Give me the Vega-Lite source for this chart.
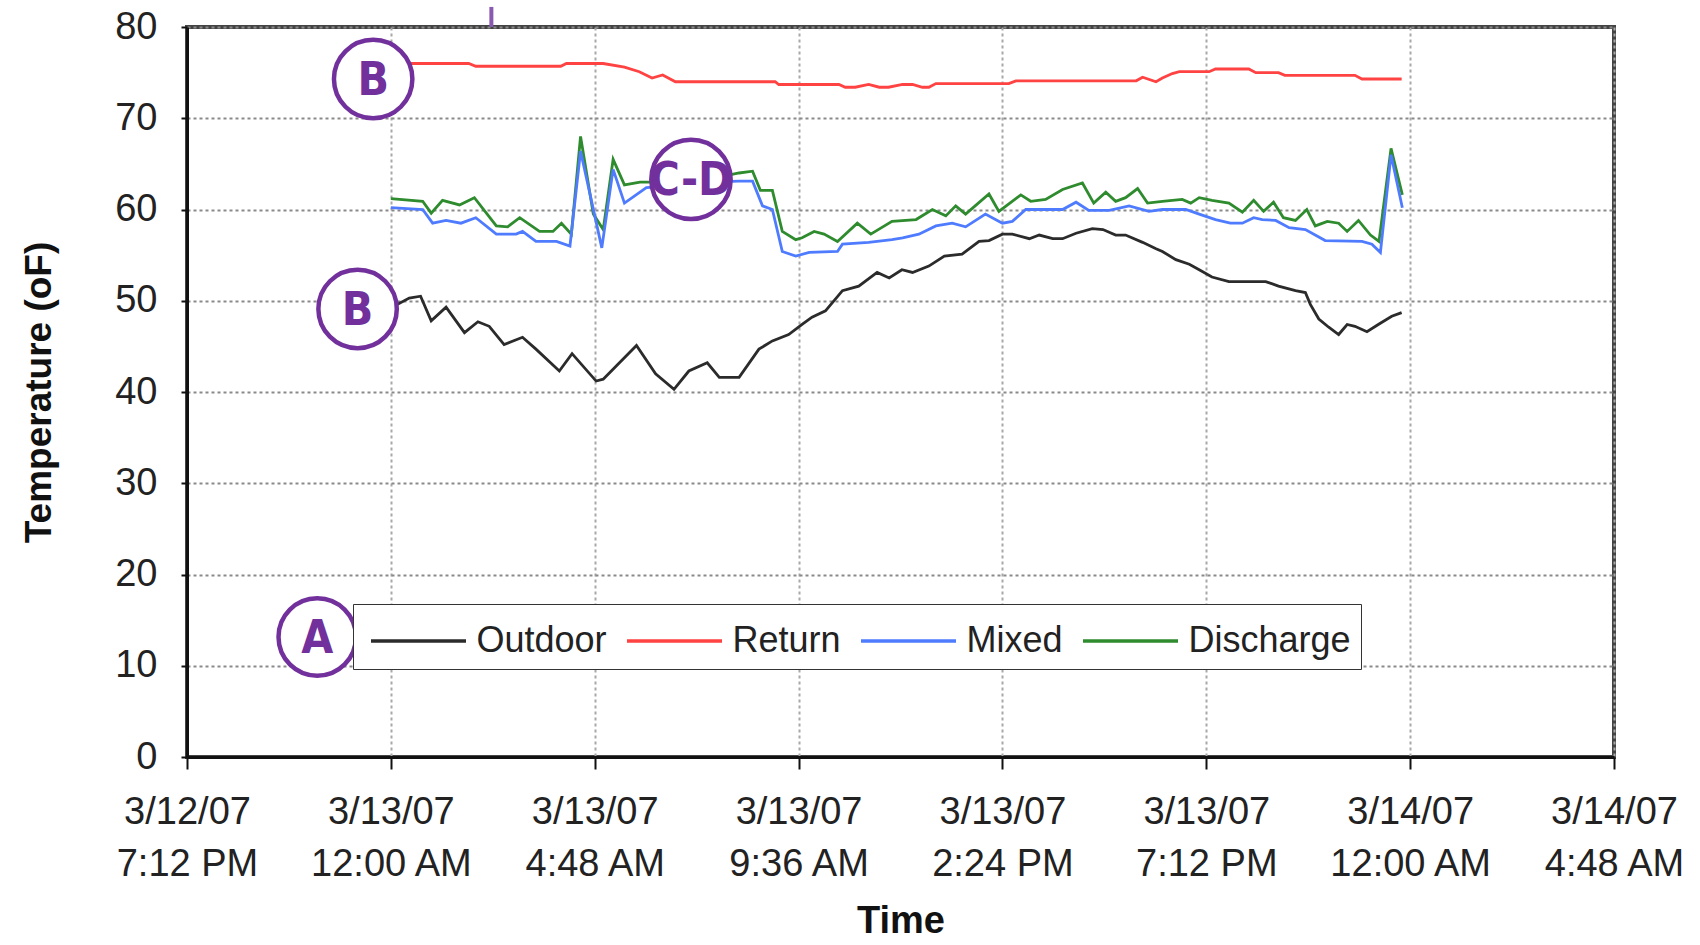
{
  "$schema": "https://vega.github.io/schema/vega-lite/v6.json",
  "width": 1427,
  "height": 730,
  "autosize": {"type": "none"},
  "padding": {"left": 187, "top": 27, "right": 86, "bottom": 188},
  "background": "white",
  "config": {
    "font": "Liberation Sans",
    "view": {"stroke": "#444", "strokeWidth": 4},
    "axis": {
      "labelColor": "#222",
      "titleColor": "#111",
      "domainColor": "#111",
      "domainWidth": 3,
      "tickColor": "#111",
      "tickWidth": 2,
      "gridDash": [3, 3],
      "gridWidth": 2
    }
  },
  "resolve": {"scale": {"size": "independent"}},
  "datasets": {
    "temps": [
      {"series":"Return","time":"2007-03-13T00:00","temp":76.0},
      {"series":"Return","time":"2007-03-13T01:50","temp":76.0},
      {"series":"Return","time":"2007-03-13T02:00","temp":75.7},
      {"series":"Return","time":"2007-03-13T04:00","temp":75.7},
      {"series":"Return","time":"2007-03-13T04:08","temp":76.0},
      {"series":"Return","time":"2007-03-13T05:00","temp":76.0},
      {"series":"Return","time":"2007-03-13T05:30","temp":75.6},
      {"series":"Return","time":"2007-03-13T05:51","temp":75.1},
      {"series":"Return","time":"2007-03-13T06:09","temp":74.4},
      {"series":"Return","time":"2007-03-13T06:24","temp":74.75},
      {"series":"Return","time":"2007-03-13T06:42","temp":74.0},
      {"series":"Return","time":"2007-03-13T09:03","temp":74.0},
      {"series":"Return","time":"2007-03-13T09:08","temp":73.7},
      {"series":"Return","time":"2007-03-13T10:33","temp":73.7},
      {"series":"Return","time":"2007-03-13T10:42","temp":73.4},
      {"series":"Return","time":"2007-03-13T10:56","temp":73.4},
      {"series":"Return","time":"2007-03-13T11:15","temp":73.7},
      {"series":"Return","time":"2007-03-13T11:30","temp":73.4},
      {"series":"Return","time":"2007-03-13T11:43","temp":73.4},
      {"series":"Return","time":"2007-03-13T12:03","temp":73.7},
      {"series":"Return","time":"2007-03-13T12:17","temp":73.7},
      {"series":"Return","time":"2007-03-13T12:31","temp":73.4},
      {"series":"Return","time":"2007-03-13T12:40","temp":73.4},
      {"series":"Return","time":"2007-03-13T12:50","temp":73.8},
      {"series":"Return","time":"2007-03-13T14:33","temp":73.8},
      {"series":"Return","time":"2007-03-13T14:43","temp":74.1},
      {"series":"Return","time":"2007-03-13T17:33","temp":74.1},
      {"series":"Return","time":"2007-03-13T17:42","temp":74.5},
      {"series":"Return","time":"2007-03-13T18:01","temp":74.0},
      {"series":"Return","time":"2007-03-13T18:10","temp":74.4},
      {"series":"Return","time":"2007-03-13T18:24","temp":74.9},
      {"series":"Return","time":"2007-03-13T18:34","temp":75.1},
      {"series":"Return","time":"2007-03-13T19:16","temp":75.1},
      {"series":"Return","time":"2007-03-13T19:25","temp":75.4},
      {"series":"Return","time":"2007-03-13T20:12","temp":75.4},
      {"series":"Return","time":"2007-03-13T20:22","temp":75.0},
      {"series":"Return","time":"2007-03-13T20:54","temp":75.0},
      {"series":"Return","time":"2007-03-13T21:03","temp":74.7},
      {"series":"Return","time":"2007-03-13T22:42","temp":74.7},
      {"series":"Return","time":"2007-03-13T22:52","temp":74.3},
      {"series":"Return","time":"2007-03-13T23:48","temp":74.3},

      {"series":"Discharge","time":"2007-03-13T00:00","temp":61.2},
      {"series":"Discharge","time":"2007-03-13T00:45","temp":60.9},
      {"series":"Discharge","time":"2007-03-13T00:57","temp":59.6},
      {"series":"Discharge","time":"2007-03-13T01:13","temp":61.0},
      {"series":"Discharge","time":"2007-03-13T01:37","temp":60.5},
      {"series":"Discharge","time":"2007-03-13T01:58","temp":61.3},
      {"series":"Discharge","time":"2007-03-13T02:29","temp":58.2},
      {"series":"Discharge","time":"2007-03-13T02:45","temp":58.1},
      {"series":"Discharge","time":"2007-03-13T03:02","temp":59.1},
      {"series":"Discharge","time":"2007-03-13T03:30","temp":57.6},
      {"series":"Discharge","time":"2007-03-13T03:49","temp":57.6},
      {"series":"Discharge","time":"2007-03-13T04:01","temp":58.5},
      {"series":"Discharge","time":"2007-03-13T04:15","temp":57.3},
      {"series":"Discharge","time":"2007-03-13T04:28","temp":68.0},
      {"series":"Discharge","time":"2007-03-13T04:46","temp":59.5},
      {"series":"Discharge","time":"2007-03-13T05:00","temp":57.8},
      {"series":"Discharge","time":"2007-03-13T05:14","temp":65.5},
      {"series":"Discharge","time":"2007-03-13T05:30","temp":62.7},
      {"series":"Discharge","time":"2007-03-13T05:52","temp":63.0},
      {"series":"Discharge","time":"2007-03-13T06:20","temp":63.0},
      {"series":"Discharge","time":"2007-03-13T07:00","temp":63.2},
      {"series":"Discharge","time":"2007-03-13T07:40","temp":63.5},
      {"series":"Discharge","time":"2007-03-13T08:12","temp":64.0},
      {"series":"Discharge","time":"2007-03-13T08:31","temp":64.2},
      {"series":"Discharge","time":"2007-03-13T08:42","temp":62.1},
      {"series":"Discharge","time":"2007-03-13T08:59","temp":62.1},
      {"series":"Discharge","time":"2007-03-13T09:13","temp":57.6},
      {"series":"Discharge","time":"2007-03-13T09:32","temp":56.7},
      {"series":"Discharge","time":"2007-03-13T09:41","temp":56.9},
      {"series":"Discharge","time":"2007-03-13T09:58","temp":57.6},
      {"series":"Discharge","time":"2007-03-13T10:12","temp":57.3},
      {"series":"Discharge","time":"2007-03-13T10:31","temp":56.5},
      {"series":"Discharge","time":"2007-03-13T10:59","temp":58.5},
      {"series":"Discharge","time":"2007-03-13T11:18","temp":57.3},
      {"series":"Discharge","time":"2007-03-13T11:48","temp":58.7},
      {"series":"Discharge","time":"2007-03-13T12:22","temp":58.9},
      {"series":"Discharge","time":"2007-03-13T12:45","temp":60.0},
      {"series":"Discharge","time":"2007-03-13T13:04","temp":59.3},
      {"series":"Discharge","time":"2007-03-13T13:18","temp":60.4},
      {"series":"Discharge","time":"2007-03-13T13:32","temp":59.5},
      {"series":"Discharge","time":"2007-03-13T14:05","temp":61.7},
      {"series":"Discharge","time":"2007-03-13T14:19","temp":59.8},
      {"series":"Discharge","time":"2007-03-13T14:50","temp":61.6},
      {"series":"Discharge","time":"2007-03-13T15:04","temp":60.9},
      {"series":"Discharge","time":"2007-03-13T15:25","temp":61.1},
      {"series":"Discharge","time":"2007-03-13T15:49","temp":62.2},
      {"series":"Discharge","time":"2007-03-13T16:17","temp":62.9},
      {"series":"Discharge","time":"2007-03-13T16:33","temp":60.7},
      {"series":"Discharge","time":"2007-03-13T16:50","temp":61.9},
      {"series":"Discharge","time":"2007-03-13T17:04","temp":60.9},
      {"series":"Discharge","time":"2007-03-13T17:18","temp":61.3},
      {"series":"Discharge","time":"2007-03-13T17:35","temp":62.3},
      {"series":"Discharge","time":"2007-03-13T17:49","temp":60.7},
      {"series":"Discharge","time":"2007-03-13T18:10","temp":60.9},
      {"series":"Discharge","time":"2007-03-13T18:38","temp":61.1},
      {"series":"Discharge","time":"2007-03-13T18:50","temp":60.7},
      {"series":"Discharge","time":"2007-03-13T19:02","temp":61.3},
      {"series":"Discharge","time":"2007-03-13T19:20","temp":61.0},
      {"series":"Discharge","time":"2007-03-13T19:44","temp":60.7},
      {"series":"Discharge","time":"2007-03-13T20:03","temp":59.7},
      {"series":"Discharge","time":"2007-03-13T20:19","temp":61.0},
      {"series":"Discharge","time":"2007-03-13T20:33","temp":59.8},
      {"series":"Discharge","time":"2007-03-13T20:47","temp":60.8},
      {"series":"Discharge","time":"2007-03-13T21:01","temp":59.1},
      {"series":"Discharge","time":"2007-03-13T21:18","temp":58.8},
      {"series":"Discharge","time":"2007-03-13T21:34","temp":60.0},
      {"series":"Discharge","time":"2007-03-13T21:46","temp":58.2},
      {"series":"Discharge","time":"2007-03-13T22:03","temp":58.7},
      {"series":"Discharge","time":"2007-03-13T22:19","temp":58.5},
      {"series":"Discharge","time":"2007-03-13T22:31","temp":57.6},
      {"series":"Discharge","time":"2007-03-13T22:47","temp":58.8},
      {"series":"Discharge","time":"2007-03-13T23:04","temp":57.2},
      {"series":"Discharge","time":"2007-03-13T23:16","temp":56.5},
      {"series":"Discharge","time":"2007-03-13T23:33","temp":66.7},
      {"series":"Discharge","time":"2007-03-13T23:49","temp":61.6},

      {"series":"Mixed","time":"2007-03-13T00:00","temp":60.2},
      {"series":"Mixed","time":"2007-03-13T00:45","temp":60.0},
      {"series":"Mixed","time":"2007-03-13T00:59","temp":58.5},
      {"series":"Mixed","time":"2007-03-13T01:18","temp":58.8},
      {"series":"Mixed","time":"2007-03-13T01:39","temp":58.5},
      {"series":"Mixed","time":"2007-03-13T02:00","temp":59.1},
      {"series":"Mixed","time":"2007-03-13T02:29","temp":57.3},
      {"series":"Mixed","time":"2007-03-13T02:57","temp":57.3},
      {"series":"Mixed","time":"2007-03-13T03:06","temp":57.6},
      {"series":"Mixed","time":"2007-03-13T03:25","temp":56.5},
      {"series":"Mixed","time":"2007-03-13T03:54","temp":56.5},
      {"series":"Mixed","time":"2007-03-13T04:13","temp":56.0},
      {"series":"Mixed","time":"2007-03-13T04:28","temp":66.4},
      {"series":"Mixed","time":"2007-03-13T04:58","temp":55.8},
      {"series":"Mixed","time":"2007-03-13T05:14","temp":64.4},
      {"series":"Mixed","time":"2007-03-13T05:30","temp":60.7},
      {"series":"Mixed","time":"2007-03-13T06:01","temp":62.4},
      {"series":"Mixed","time":"2007-03-13T06:40","temp":62.6},
      {"series":"Mixed","time":"2007-03-13T07:30","temp":63.0},
      {"series":"Mixed","time":"2007-03-13T08:12","temp":63.1},
      {"series":"Mixed","time":"2007-03-13T08:31","temp":63.1},
      {"series":"Mixed","time":"2007-03-13T08:45","temp":60.4},
      {"series":"Mixed","time":"2007-03-13T08:59","temp":60.0},
      {"series":"Mixed","time":"2007-03-13T09:13","temp":55.4},
      {"series":"Mixed","time":"2007-03-13T09:32","temp":54.9},
      {"series":"Mixed","time":"2007-03-13T09:51","temp":55.3},
      {"series":"Mixed","time":"2007-03-13T10:31","temp":55.4},
      {"series":"Mixed","time":"2007-03-13T10:38","temp":56.2},
      {"series":"Mixed","time":"2007-03-13T11:15","temp":56.4},
      {"series":"Mixed","time":"2007-03-13T11:48","temp":56.7},
      {"series":"Mixed","time":"2007-03-13T12:03","temp":56.9},
      {"series":"Mixed","time":"2007-03-13T12:26","temp":57.3},
      {"series":"Mixed","time":"2007-03-13T12:50","temp":58.2},
      {"series":"Mixed","time":"2007-03-13T13:13","temp":58.5},
      {"series":"Mixed","time":"2007-03-13T13:32","temp":58.1},
      {"series":"Mixed","time":"2007-03-13T14:00","temp":59.5},
      {"series":"Mixed","time":"2007-03-13T14:24","temp":58.5},
      {"series":"Mixed","time":"2007-03-13T14:38","temp":58.7},
      {"series":"Mixed","time":"2007-03-13T14:57","temp":60.0},
      {"series":"Mixed","time":"2007-03-13T15:49","temp":60.0},
      {"series":"Mixed","time":"2007-03-13T16:08","temp":60.8},
      {"series":"Mixed","time":"2007-03-13T16:26","temp":59.9},
      {"series":"Mixed","time":"2007-03-13T16:55","temp":59.9},
      {"series":"Mixed","time":"2007-03-13T17:23","temp":60.4},
      {"series":"Mixed","time":"2007-03-13T17:51","temp":59.8},
      {"series":"Mixed","time":"2007-03-13T18:10","temp":60.0},
      {"series":"Mixed","time":"2007-03-13T18:43","temp":60.0},
      {"series":"Mixed","time":"2007-03-13T19:02","temp":59.5},
      {"series":"Mixed","time":"2007-03-13T19:25","temp":58.9},
      {"series":"Mixed","time":"2007-03-13T19:46","temp":58.5},
      {"series":"Mixed","time":"2007-03-13T20:03","temp":58.5},
      {"series":"Mixed","time":"2007-03-13T20:19","temp":59.1},
      {"series":"Mixed","time":"2007-03-13T20:31","temp":58.9},
      {"series":"Mixed","time":"2007-03-13T20:50","temp":58.8},
      {"series":"Mixed","time":"2007-03-13T21:09","temp":58.0},
      {"series":"Mixed","time":"2007-03-13T21:32","temp":57.8},
      {"series":"Mixed","time":"2007-03-13T22:00","temp":56.6},
      {"series":"Mixed","time":"2007-03-13T22:52","temp":56.5},
      {"series":"Mixed","time":"2007-03-13T23:06","temp":56.2},
      {"series":"Mixed","time":"2007-03-13T23:18","temp":55.3},
      {"series":"Mixed","time":"2007-03-13T23:33","temp":66.0},
      {"series":"Mixed","time":"2007-03-13T23:49","temp":60.2},

      {"series":"Outdoor","time":"2007-03-13T00:00","temp":49.4},
      {"series":"Outdoor","time":"2007-03-13T00:09","temp":49.6},
      {"series":"Outdoor","time":"2007-03-13T00:26","temp":50.3},
      {"series":"Outdoor","time":"2007-03-13T00:42","temp":50.5},
      {"series":"Outdoor","time":"2007-03-13T00:57","temp":47.8},
      {"series":"Outdoor","time":"2007-03-13T01:18","temp":49.3},
      {"series":"Outdoor","time":"2007-03-13T01:44","temp":46.5},
      {"series":"Outdoor","time":"2007-03-13T02:03","temp":47.7},
      {"series":"Outdoor","time":"2007-03-13T02:19","temp":47.2},
      {"series":"Outdoor","time":"2007-03-13T02:40","temp":45.2},
      {"series":"Outdoor","time":"2007-03-13T03:06","temp":46.0},
      {"series":"Outdoor","time":"2007-03-13T03:25","temp":44.7},
      {"series":"Outdoor","time":"2007-03-13T03:58","temp":42.3},
      {"series":"Outdoor","time":"2007-03-13T04:16","temp":44.2},
      {"series":"Outdoor","time":"2007-03-13T04:50","temp":41.2},
      {"series":"Outdoor","time":"2007-03-13T05:00","temp":41.4},
      {"series":"Outdoor","time":"2007-03-13T05:47","temp":45.1},
      {"series":"Outdoor","time":"2007-03-13T06:14","temp":42.0},
      {"series":"Outdoor","time":"2007-03-13T06:40","temp":40.3},
      {"series":"Outdoor","time":"2007-03-13T07:01","temp":42.3},
      {"series":"Outdoor","time":"2007-03-13T07:27","temp":43.2},
      {"series":"Outdoor","time":"2007-03-13T07:44","temp":41.6},
      {"series":"Outdoor","time":"2007-03-13T08:12","temp":41.6},
      {"series":"Outdoor","time":"2007-03-13T08:40","temp":44.7},
      {"series":"Outdoor","time":"2007-03-13T08:59","temp":45.6},
      {"series":"Outdoor","time":"2007-03-13T09:22","temp":46.3},
      {"series":"Outdoor","time":"2007-03-13T09:41","temp":47.4},
      {"series":"Outdoor","time":"2007-03-13T09:55","temp":48.2},
      {"series":"Outdoor","time":"2007-03-13T10:14","temp":48.9},
      {"series":"Outdoor","time":"2007-03-13T10:38","temp":51.1},
      {"series":"Outdoor","time":"2007-03-13T11:01","temp":51.6},
      {"series":"Outdoor","time":"2007-03-13T11:27","temp":53.1},
      {"series":"Outdoor","time":"2007-03-13T11:44","temp":52.5},
      {"series":"Outdoor","time":"2007-03-13T12:02","temp":53.4},
      {"series":"Outdoor","time":"2007-03-13T12:17","temp":53.1},
      {"series":"Outdoor","time":"2007-03-13T12:40","temp":53.8},
      {"series":"Outdoor","time":"2007-03-13T13:02","temp":54.9},
      {"series":"Outdoor","time":"2007-03-13T13:27","temp":55.1},
      {"series":"Outdoor","time":"2007-03-13T13:51","temp":56.5},
      {"series":"Outdoor","time":"2007-03-13T14:05","temp":56.6},
      {"series":"Outdoor","time":"2007-03-13T14:24","temp":57.3},
      {"series":"Outdoor","time":"2007-03-13T14:38","temp":57.3},
      {"series":"Outdoor","time":"2007-03-13T15:02","temp":56.8},
      {"series":"Outdoor","time":"2007-03-13T15:16","temp":57.2},
      {"series":"Outdoor","time":"2007-03-13T15:35","temp":56.8},
      {"series":"Outdoor","time":"2007-03-13T15:49","temp":56.8},
      {"series":"Outdoor","time":"2007-03-13T16:08","temp":57.4},
      {"series":"Outdoor","time":"2007-03-13T16:31","temp":57.9},
      {"series":"Outdoor","time":"2007-03-13T16:46","temp":57.8},
      {"series":"Outdoor","time":"2007-03-13T17:04","temp":57.2},
      {"series":"Outdoor","time":"2007-03-13T17:18","temp":57.2},
      {"series":"Outdoor","time":"2007-03-13T17:42","temp":56.4},
      {"series":"Outdoor","time":"2007-03-13T18:01","temp":55.7},
      {"series":"Outdoor","time":"2007-03-13T18:10","temp":55.4},
      {"series":"Outdoor","time":"2007-03-13T18:29","temp":54.5},
      {"series":"Outdoor","time":"2007-03-13T18:48","temp":54.0},
      {"series":"Outdoor","time":"2007-03-13T19:02","temp":53.4},
      {"series":"Outdoor","time":"2007-03-13T19:20","temp":52.6},
      {"series":"Outdoor","time":"2007-03-13T19:44","temp":52.1},
      {"series":"Outdoor","time":"2007-03-13T20:36","temp":52.1},
      {"series":"Outdoor","time":"2007-03-13T20:54","temp":51.6},
      {"series":"Outdoor","time":"2007-03-13T21:18","temp":51.1},
      {"series":"Outdoor","time":"2007-03-13T21:32","temp":50.9},
      {"series":"Outdoor","time":"2007-03-13T21:39","temp":49.6},
      {"series":"Outdoor","time":"2007-03-13T21:51","temp":48.0},
      {"series":"Outdoor","time":"2007-03-13T22:05","temp":47.1},
      {"series":"Outdoor","time":"2007-03-13T22:19","temp":46.3},
      {"series":"Outdoor","time":"2007-03-13T22:31","temp":47.4},
      {"series":"Outdoor","time":"2007-03-13T22:42","temp":47.2},
      {"series":"Outdoor","time":"2007-03-13T22:59","temp":46.6},
      {"series":"Outdoor","time":"2007-03-13T23:15","temp":47.4},
      {"series":"Outdoor","time":"2007-03-13T23:34","temp":48.3},
      {"series":"Outdoor","time":"2007-03-13T23:48","temp":48.7}
    ],
    "notes": [
      {"label":"B","time":"2007-03-12T23:35","temp":74.3},
      {"label":"C-D","time":"2007-03-13T07:04","temp":63.3},
      {"label":"B","time":"2007-03-12T23:13","temp":49.1},
      {"label":"A","time":"2007-03-12T22:16","temp":13.15}
    ],
    "marker": [
      {"time":"2007-03-13T02:22","temp":80,"top":82.2}
    ]
  },
  "encoding": {
    "x": {
      "field": "time",
      "type": "temporal",
      "scale": {
        "domain": [
          {"year": 2007, "month": 3, "date": 12, "hours": 19, "minutes": 12},
          {"year": 2007, "month": 3, "date": 14, "hours": 4, "minutes": 48}
        ]
      },
      "axis": {
        "title": "Time",
        "titleFontSize": 38,
        "titleFontWeight": "bold",
        "titlePadding": 19,
        "values": [
          {"year": 2007, "month": 3, "date": 12, "hours": 19, "minutes": 12},
          {"year": 2007, "month": 3, "date": 13, "hours": 0, "minutes": 0},
          {"year": 2007, "month": 3, "date": 13, "hours": 4, "minutes": 48},
          {"year": 2007, "month": 3, "date": 13, "hours": 9, "minutes": 36},
          {"year": 2007, "month": 3, "date": 13, "hours": 14, "minutes": 24},
          {"year": 2007, "month": 3, "date": 13, "hours": 19, "minutes": 12},
          {"year": 2007, "month": 3, "date": 14, "hours": 0, "minutes": 0},
          {"year": 2007, "month": 3, "date": 14, "hours": 4, "minutes": 48}
        ],
        "labelExpr": "[timeFormat(datum.value, '%-m/%-d/%y'), timeFormat(datum.value, '%-I:%M %p')]",
        "labelFontSize": 38,
        "labelLineHeight": 52,
        "labelPadding": 24,
        "labelAlign": "center",
        "labelOverlap": false,
        "labelBound": false,
        "labelFlush": false,
        "tickSize": 12,
        "grid": true,
        "gridColor": "#a8a8a8"
      }
    },
    "y": {
      "field": "temp",
      "type": "quantitative",
      "scale": {"domain": [0, 80], "nice": false, "zero": true},
      "axis": {
        "title": "Temperature (oF)",
        "titleFontSize": 37,
        "titleFontWeight": "bold",
        "titlePadding": 56,
        "values": [0, 10, 20, 30, 40, 50, 60, 70, 80],
        "labelFontSize": 38,
        "labelPadding": 24,
        "tickSize": 6,
        "grid": true,
        "gridColor": "#8a8a8a"
      }
    }
  },
  "layer": [
    {
      "data": {"name": "temps"},
      "mark": {"type": "line", "strokeWidth": 2.8},
      "encoding": {
        "color": {
          "field": "series",
          "type": "nominal",
          "scale": {
            "domain": ["Outdoor", "Return", "Mixed", "Discharge"],
            "range": ["#2b2b2b", "#ff4242", "#4f7bff", "#2e8b2e"]
          },
          "legend": {
            "title": null,
            "orient": "none",
            "legendX": 166,
            "legendY": 577,
            "direction": "horizontal",
            "symbolType": "M-1.9,0H1.9",
            "symbolSize": 2500,
            "symbolStrokeWidth": 3.5,
            "symbolOffset": 28.5,
            "labelFontSize": 36,
            "labelColor": "#222",
            "labelOffset": 31,
            "labelLimit": 0,
            "columnPadding": 12,
            "padding": 10,
            "strokeColor": "#333",
            "fillColor": "white"
          }
        }
      }
    },
    {
      "data": {"name": "marker"},
      "mark": {"type": "rule", "color": "#8a5ab0", "strokeWidth": 4, "clip": false},
      "encoding": {
        "y2": {"field": "top"}
      }
    },
    {
      "data": {"name": "notes"},
      "mark": {"type": "point", "shape": "circle", "filled": false, "fill": "white", "fillOpacity": 1, "stroke": "#72309c", "strokeWidth": 4.5, "opacity": 1},
      "encoding": {
        "size": {
          "field": "label",
          "type": "nominal",
          "scale": {"domain": ["A", "B", "C-D"], "range": [6000, 6300, 9400]},
          "legend": null
        }
      }
    },
    {
      "data": {"name": "notes"},
      "mark": {"type": "text", "font": "DejaVu Sans Condensed, Liberation Sans Narrow, Roboto", "fontWeight": "bold", "color": "#72309c", "align": "center", "baseline": "middle", "dy": 2},
      "encoding": {
        "text": {"field": "label", "type": "nominal"},
        "size": {
          "field": "label",
          "type": "nominal",
          "scale": {"domain": ["A", "B", "C-D"], "range": [46, 46, 40]},
          "legend": null
        }
      }
    }
  ]
}
